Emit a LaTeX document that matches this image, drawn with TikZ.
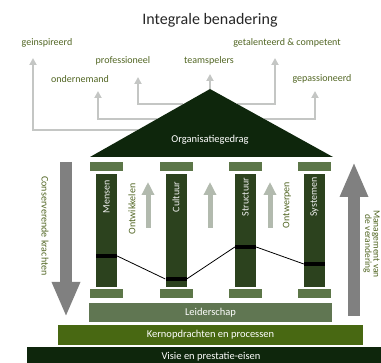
\documentclass[tikz,border=0pt]{standalone}
\usepackage{fontspec}
\setmainfont{Carlito}
\usetikzlibrary{arrows.meta,calc}

\definecolor{roofgreen}{RGB}{14,38,12}
\definecolor{shaftgreen}{RGB}{44,66,30}
\definecolor{capgreen}{RGB}{92,118,72}
\definecolor{leadgreen}{RGB}{96,118,82}
\definecolor{coregreen}{RGB}{72,104,18}
\definecolor{labelgreen}{RGB}{82,102,36}
\definecolor{linegray}{RGB}{196,198,196}
\definecolor{upgray}{RGB}{178,186,174}
\definecolor{biggray}{RGB}{128,128,128}

\begin{document}
\begin{tikzpicture}[x=1pt, y=-1pt,
    every node/.style={inner sep=0pt, font=\fontsize{10}{11}\selectfont},
    outcome/.style={text=labelgreen},
    conn/.style={draw=linegray, line width=2pt, -{Triangle[width=7pt,length=7pt]}},
    shaft/.style={fill=shaftgreen, minimum width=21pt, minimum height=113pt},
    capstone/.style={fill=capgreen, minimum width=33pt, minimum height=9pt},
    band/.style={fill=black, minimum width=21pt, minimum height=4pt},
    layer/.style={text=white, minimum height=20pt, font=\fontsize{10.5}{12}\selectfont},
    pillartext/.style={rotate=90, text=white!88!gray},
    flowtext/.style={rotate=90, text=labelgreen},
    smallup/.style={draw=upgray, line width=5pt, -{Triangle[width=12pt,length=13pt]}},
    bigarrow/.style={draw=biggray, line width=12pt, -{Triangle[width=26pt,length=35pt]}},
    sidetext/.style={rotate=-90, text=labelgreen}]
  \useasboundingbox (0,0) rectangle (381,363);
  \clip (0,0) rectangle (381,363);

  % Title & outcomes
  \node[font=\fontsize{16}{18}\selectfont, text=black!85] (title) at (210,20) {Integrale benadering};
  \node[outcome] (geinspireerd) at (47,43) {geinspireerd};
  \node[outcome] (getalenteerd) at (287,43) {getalenteerd \& competent};
  \node[outcome] (professioneel) at (123,61) {professioneel};
  \node[outcome] (teamspelers) at (209,61) {teamspelers};
  \node[outcome] (ondernemand) at (80,79) {ondernemand};
  \node[outcome] (gepassioneerd) at (322,79) {gepassioneerd};

  % Roof
  \coordinate (apex) at (210,89);
  \coordinate (eaveL) at (90,157);
  \coordinate (eaveR) at (333,157);
  \coordinate (outL1) at ($(apex)!0.603!(eaveL)$);
  \coordinate (outL2) at ($(apex)!0.441!(eaveL)$);
  \coordinate (outL3) at ($(apex)!0.221!(eaveL)$);
  \coordinate (outR3) at ($(apex)!0.221!(eaveR)$);
  \coordinate (outR2) at ($(apex)!0.441!(eaveR)$);
  \coordinate (tipL1) at (33,58);
  \coordinate (tipL2) at (98,91);
  \coordinate (tipL3) at (138,77);
  \coordinate (tipMid) at (210,74);
  \coordinate (tipR3) at (275,58);
  \coordinate (tipR2) at (315,91);
  \draw[conn] (outL1) -| (tipL1);
  \draw[conn] (outL2) -| (tipL2);
  \draw[conn] (outL3) -| (tipL3);
  \draw[conn] (apex) -- (tipMid);
  \draw[conn] (outR3) -| (tipR3);
  \draw[conn] (outR2) -| (tipR2);
  \fill[roofgreen] (eaveL) -- (apex) -- (eaveR) -- cycle;
  \node[text=white, font=\fontsize{10.5}{12}\selectfont] (roof) at (210,140) {Organisatiegedrag};

  % Pillars
  \foreach \x/\name/\b [count=\i] in {106.5/Mensen/256, 176/Cultuur/279,
      245.5/Structuur/247, 314.5/Systemen/264} {
    \node[capstone] (top\i) at (\x,166.5) {};
    \node[shaft] (shaft\i) at (\x,230.5) {};
    \node[capstone] (foot\i) at (\x,294) {};
    \node[band] (band\i) at (\x,\b) {};
    \node[pillartext] (name\i) at (\x,197) {\name};
  }
  \draw[black, line width=0.8pt] (band1.east) -- (band2.west)
    (band2.east) -- (band3.west) (band3.east) -- (band4.west);

  % Growth arrows between pillars
  \foreach \x in {148,210,270} {
    \draw[smallup] (\x,228) -- (\x,182);
  }
  \node[flowtext] (ontwikkelen) at (132,209) {Ontwikkelen};
  \node[flowtext] (ontwerpen) at (287,205) {Ontwerpen};

  % Foundation layers
  \node[layer, fill=leadgreen, minimum width=243pt, minimum height=19pt] (lead) at (210.5,312.5) {Leiderschap};
  \node[layer, fill=coregreen, minimum width=305pt] (core) at (210.5,335) {Kernopdrachten en processen};
  \node[layer, fill=roofgreen, minimum width=368pt] (vision) at (211,357) {Visie en prestatie-eisen};

  % Forces
  \draw[bigarrow] (66,162) -- (66,317);
  \draw[bigarrow] (354,316) -- (354,162);
  \node[sidetext] (conserve) at (45,226) {Conserverende krachten};
  \node[sidetext, align=center, font=\fontsize{9.5}{8.5}\selectfont] (manage) at (371.5,244) {Management van\\de verandering};
\end{tikzpicture}
\end{document}
